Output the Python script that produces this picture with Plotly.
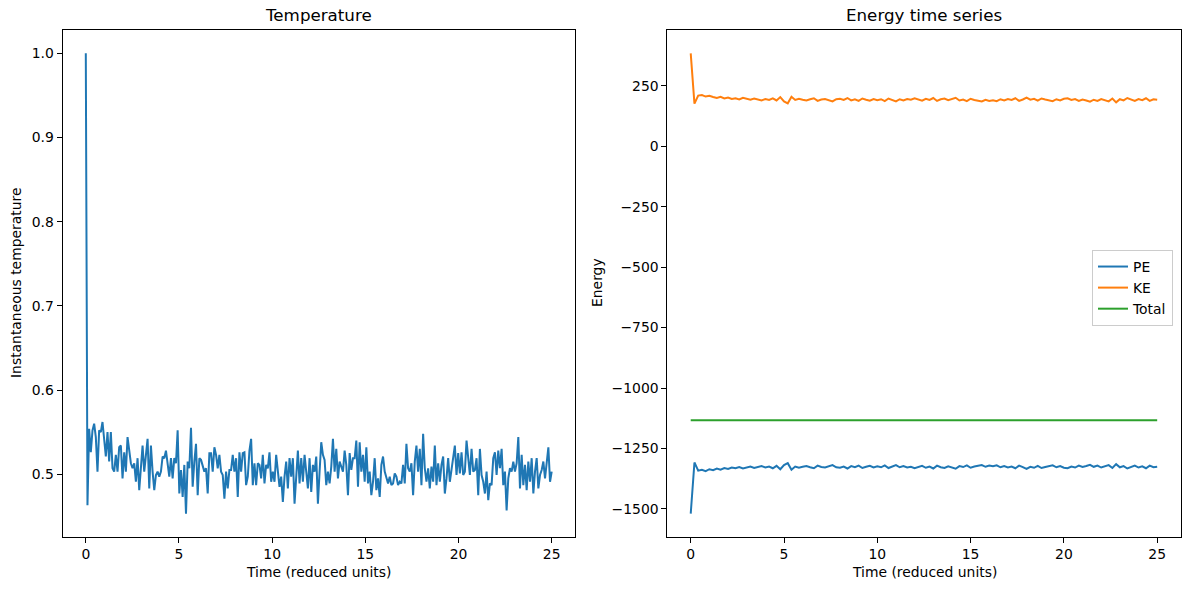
import numpy as np
import plotly.graph_objects as go

# ---------------- data ----------------
T_END = 25.0  # simulation length in reduced time units

temperature = [
    1.000, 0.463, 0.554, 0.526, 0.552, 0.560, 0.544, 0.503, 0.552, 0.550,
    0.562, 0.542, 0.521, 0.550, 0.515, 0.550, 0.507, 0.503, 0.523, 0.503,
    0.532, 0.534, 0.495, 0.526, 0.503, 0.544, 0.530, 0.513, 0.507, 0.513,
    0.491, 0.519, 0.481, 0.511, 0.534, 0.503, 0.521, 0.542, 0.483, 0.534,
    0.503, 0.481, 0.499, 0.503, 0.497, 0.503, 0.521, 0.519, 0.528, 0.509,
    0.497, 0.519, 0.495, 0.519, 0.513, 0.552, 0.477, 0.505, 0.473, 0.511,
    0.453, 0.515, 0.507, 0.555, 0.485, 0.515, 0.536, 0.475, 0.519, 0.517,
    0.511, 0.503, 0.507, 0.477, 0.525, 0.525, 0.503, 0.532, 0.523, 0.507,
    0.523, 0.503, 0.499, 0.471, 0.503, 0.483, 0.505, 0.505, 0.523, 0.503,
    0.519, 0.473, 0.526, 0.503, 0.525,
    0.526, 0.487, 0.497, 0.528, 0.542, 0.487, 0.513, 0.487, 0.513, 0.511,
    0.495, 0.523, 0.489, 0.511, 0.507, 0.526, 0.491, 0.503, 0.491, 0.523,
    0.507, 0.485, 0.497, 0.467, 0.497, 0.515, 0.483, 0.519, 0.497, 0.519,
    0.465, 0.503, 0.528, 0.489, 0.519, 0.491, 0.523, 0.503, 0.483, 0.519,
    0.479, 0.511, 0.503, 0.521, 0.465, 0.503, 0.538, 0.523, 0.517, 0.487,
    0.503, 0.489, 0.509, 0.542, 0.503, 0.530, 0.495, 0.515, 0.509, 0.503,
    0.528, 0.511, 0.475, 0.525, 0.505, 0.519, 0.519, 0.540, 0.485, 0.538,
    0.503, 0.523, 0.491, 0.532, 0.489, 0.503, 0.475, 0.491, 0.519, 0.481,
    0.495, 0.473, 0.511, 0.521, 0.503, 0.495, 0.489, 0.497, 0.487, 0.489,
    0.501, 0.497, 0.487, 0.491,
    0.489, 0.511, 0.489, 0.536, 0.507, 0.503, 0.513, 0.475, 0.515, 0.534,
    0.503, 0.530, 0.487, 0.548, 0.507, 0.491, 0.507, 0.483, 0.509, 0.491,
    0.534, 0.487, 0.513, 0.491, 0.511, 0.521, 0.477, 0.495, 0.519, 0.491,
    0.507, 0.519, 0.534, 0.499, 0.525, 0.501, 0.526, 0.499, 0.503, 0.540,
    0.515, 0.499, 0.530, 0.503, 0.505, 0.519, 0.475, 0.530, 0.499, 0.491,
    0.477, 0.503, 0.469, 0.489, 0.487, 0.519, 0.526, 0.499, 0.528, 0.507,
    0.530, 0.487, 0.503, 0.457, 0.495, 0.507, 0.503, 0.515, 0.503, 0.513,
    0.544, 0.483, 0.523, 0.487, 0.511, 0.481, 0.515, 0.491, 0.519, 0.477,
    0.503, 0.519, 0.483, 0.499, 0.505, 0.515, 0.495, 0.513, 0.532, 0.491,
    0.503,
]

kinetic = [
    385, 177, 210, 212, 206, 209, 204, 200, 205, 198,
    202, 196, 199, 194, 201, 197, 193, 198, 195, 190,
    196, 192, 199, 190, 204, 186, 178, 205, 192, 197,
    193, 190, 195, 199, 188, 194, 196, 191, 186, 195,
    197, 192, 200, 190, 195, 188, 198, 193, 189, 196,
    191, 195, 187, 198, 192, 186, 195, 190, 196, 193,
    199, 194, 189, 197, 192, 200, 188, 195, 198, 191,
    196, 201, 190, 194, 187, 197, 192, 189, 186, 193,
    188, 191, 187, 195, 190, 196, 192, 199, 188, 194,
    202, 193, 197, 189, 198, 194, 191, 187, 195, 190,
    197, 199, 192, 196, 188, 194, 190, 185, 193, 188,
    196, 191, 186, 198, 182, 195, 190, 200, 193, 188,
    196, 191, 199, 188, 195, 193,
]

potential = [
    -1520, -1308, -1342, -1338, -1344, -1336, -1340, -1333, -1338, -1331,
    -1335, -1329, -1332, -1327, -1333, -1330, -1325, -1331, -1328, -1323,
    -1329, -1325, -1332, -1322, -1336, -1319, -1311, -1338, -1325, -1330,
    -1326, -1323, -1328, -1332, -1321, -1327, -1329, -1324, -1319, -1328,
    -1330, -1325, -1333, -1323, -1328, -1321, -1331, -1326, -1322, -1329,
    -1324, -1328, -1320, -1331, -1325, -1319, -1328, -1323, -1329, -1326,
    -1332, -1327, -1322, -1330, -1325, -1333, -1321, -1328, -1331, -1324,
    -1329, -1334, -1323, -1327, -1320, -1330, -1325, -1322, -1319, -1326,
    -1321, -1324, -1320, -1328, -1323, -1329, -1325, -1332, -1321, -1327,
    -1335, -1326, -1330, -1322, -1331, -1327, -1324, -1320, -1328, -1323,
    -1330, -1332, -1325, -1329, -1321, -1327, -1323, -1318, -1326, -1321,
    -1329, -1324, -1319, -1331, -1315, -1328, -1323, -1333, -1326, -1321,
    -1329, -1324, -1332, -1321, -1328, -1326,
]

total_time = [0.0, 25.0]
total_energy = [-1133, -1133]

x_ticks = [0, 5, 10, 15, 20, 25]
temp_ticks = [0.5, 0.6, 0.7, 0.8, 0.9, 1.0]
energy_ticks = [-1500, -1250, -1000, -750, -500, -250, 0, 250]

# sample times (uniform sampling of the run)
t_temp = np.linspace(0.0, T_END, len(temperature))
t_energy = np.linspace(0.0, T_END, len(kinetic))

# ---------------- styling ----------------
W, H = 1189, 590
FONT = "DejaVu Sans"
BLUE, ORANGE, GREEN = "#1f77b4", "#ff7f0e", "#2ca02c"
LW = 2


def px_x(p):
    return p / W


def px_y(p):
    return 1 - p / H


fig = go.Figure()
fig.add_trace(go.Scatter(x=t_temp, y=temperature, mode="lines",
                         line=dict(color=BLUE, width=LW),
                         xaxis="x", yaxis="y", showlegend=False,
                         name="Temperature"))
fig.add_trace(go.Scatter(x=t_energy, y=potential, mode="lines", name="PE",
                         line=dict(color=BLUE, width=LW),
                         xaxis="x2", yaxis="y2"))
fig.add_trace(go.Scatter(x=t_energy, y=kinetic, mode="lines", name="KE",
                         line=dict(color=ORANGE, width=LW),
                         xaxis="x2", yaxis="y2"))
fig.add_trace(go.Scatter(x=total_time, y=total_energy, mode="lines", name="Total",
                         line=dict(color=GREEN, width=LW),
                         xaxis="x2", yaxis="y2"))

axis_common = dict(
    showline=True, linecolor="black", linewidth=1, mirror=True,
    ticks="outside", ticklen=5, tickwidth=1, tickcolor="black",
    showgrid=False, zeroline=False,
    tickfont=dict(family=FONT, size=13.9, color="black"),
)

ydom = [px_y(536.7), px_y(30.3)]

fig.update_layout(
    width=W, height=H,
    margin=dict(l=0, r=0, t=0, b=0),
    paper_bgcolor="white", plot_bgcolor="white",
    font=dict(family=FONT, size=13.9, color="black"),
    xaxis=dict(domain=[px_x(62.5), px_x(575)], anchor="y",
               range=[-1.25, 26.25], tickvals=x_ticks, **axis_common),
    yaxis=dict(domain=ydom, anchor="x",
               range=[0.4257, 1.0274], tickvals=temp_ticks,
               tickformat=".1f", **axis_common),
    xaxis2=dict(domain=[px_x(667.4), px_x(1180.5)], anchor="y2",
                range=[-1.25, 26.25], tickvals=x_ticks, **axis_common),
    yaxis2=dict(domain=ydom, anchor="x2",
                range=[-1615.25, 480.25], tickvals=energy_ticks,
                **axis_common),
    legend=dict(x=px_x(1173), y=px_y(250), xanchor="right", yanchor="top",
                bgcolor="white", bordercolor="#cccccc", borderwidth=1,
                font=dict(family=FONT, size=13.9, color="black"),
                itemwidth=30, tracegroupgap=0),
    showlegend=True,
)

annots = [
    dict(text="Temperature", x=px_x(318.7), y=px_y(15), size=16.7, angle=0),
    dict(text="Energy time series", x=px_x(924), y=px_y(15), size=16.7, angle=0),
    dict(text="Time (reduced units)", x=px_x(318.7), y=px_y(572), size=13.9, angle=0),
    dict(text="Time (reduced units)", x=px_x(924), y=px_y(572), size=13.9, angle=0),
    dict(text="Instantaneous temperature", x=px_x(16), y=px_y(283), size=13.9, angle=-90),
    dict(text="Energy", x=px_x(597), y=px_y(283), size=13.9, angle=-90),
]
for a in annots:
    fig.add_annotation(text=a["text"], x=a["x"], y=a["y"], xref="paper", yref="paper",
                       xanchor="center", yanchor="middle", showarrow=False,
                       textangle=a["angle"],
                       font=dict(family=FONT, size=a["size"], color="black"))

# remove the default page margin so the figure fills the window exactly
fig.write_html("out.html",
               config={"displayModeBar": False},
               post_script="document.body.style.margin='0px';"
                           "document.body.style.overflow='hidden';")
